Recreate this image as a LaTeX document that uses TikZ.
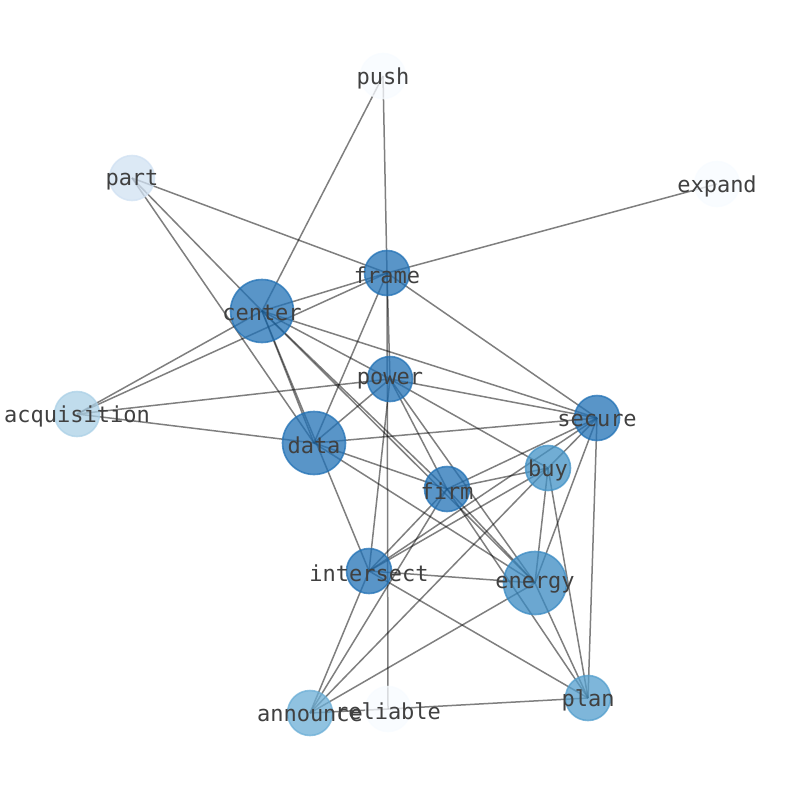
\documentclass[tikz,border=0pt]{standalone}
\usepackage{fontspec}
\newfontfamily\wordfont{DejaVu Sans Mono}
\usepackage{xcolor}
\definecolor{Blues8}{HTML}{2171b5}
\definecolor{Blues7}{HTML}{3a8ac2}
\definecolor{Blues6}{HTML}{4292c6}
\definecolor{Blues5}{HTML}{539ecd}
\definecolor{Blues4}{HTML}{6baed6}
\definecolor{Blues2}{HTML}{abd0e6}
\definecolor{Blues1}{HTML}{d0e1f2}
\definecolor{Blues0}{HTML}{f7fbff}
\colorlet{c0}{Blues8}
\colorlet{c1}{Blues6}
\colorlet{c2}{Blues5}
\colorlet{c3}{Blues4}
\colorlet{c4}{Blues2}
\colorlet{c5}{Blues1}
\colorlet{c6}{Blues0}
\usepackage{tikz}
\usetikzlibrary{backgrounds}
\tikzset{
	font = \wordfont\fontsize{22}{26}\selectfont,
	vertex/.style={
		draw,
		circle,
		line width=1.6pt,
		fill opacity=.75,
		draw opacity=.75,
		inner sep=0pt,
		minimum size=45pt
	},
	big vertex/.style={
		vertex,
		minimum size=63pt
	},
	word/.style={
		text=black!75,
		inner sep=0pt,
		yshift=-2pt
	},
	edge/.style={
		draw=black,
		draw opacity=.5,
		line width=1.5pt
	}
}

\begin{document}
\begin{tikzpicture}[x=1pt, y=-1pt]
\useasboundingbox (0,0) rectangle (794,790);
% ---
% Word graph
% ---
\node[vertex, color=c6, fill=c6, label={[word]center:push}] at (383,76) (push) {};
\node[vertex, color=c5, fill=c5, label={[word]center:part}] at (132,178) (part) {};
\node[vertex, color=c6, fill=c6, label={[word]center:expand}] at (717,184) (expand) {};
\node[vertex, color=c0, fill=c0, label={[word]center:frame}] at (387,273) (frame) {};
\node[big vertex, color=c0, fill=c0, label={[word]center:center}] at (262,311) (center) {};
\node[vertex, color=c0, fill=c0, label={[word]center:power}] at (390,379) (power) {};
\node[vertex, color=c4, fill=c4, label={[word]center:acquisition}] at (77,414) (acq) {};
\node[big vertex, color=c0, fill=c0, label={[word]center:data}] at (314,443) (data) {};
\node[vertex, color=c0, fill=c0, label={[word]center:secure}] at (597,418) (secure) {};
\node[vertex, color=c1, fill=c1, label={[word]center:buy}] at (548,468) (buy) {};
\node[vertex, color=c0, fill=c0, label={[word]center:firm}] at (447,489) (firm) {};
\node[vertex, color=c0, fill=c0, label={[word]center:intersect}] at (369,571) (inter) {};
\node[big vertex, color=Blues7, fill=Blues7, label={[word]center:energy}] at (535,583) (energy) {};
\node[vertex, color=c6, fill=c6, label={[word]center:reliable}] at (388,709) (reliable) {};
\node[vertex, color=c3, fill=c3, label={[word]center:announce}] at (310,713) (announce) {};
\node[vertex, color=c2, fill=c2, label={[word]center:plan}] at (588,698) (plan) {};

\begin{scope}[on background layer]
\draw[edge] (push.center) to (center.center);
\draw[edge] (push.center) to (frame.center);
\draw[edge] (expand.center) to (frame.center);

\draw[edge] (part.center) to (frame.center);
\draw[edge] (part.center) to (center.center);
\draw[edge] (part.center) to (data.center);

\draw[edge] (acq.center) to (center.center);
\draw[edge] (acq.center) to (frame.center);
\draw[edge] (acq.center) to (power.center);
\draw[edge] (acq.center) to (data.center);

\draw[edge] (center.center) to (frame.center);
\draw[edge] (center.center) to (data.center);
\draw[edge] (center.center) to (inter.center);
\draw[edge] (center.center) to (power.center);
\draw[edge] (center.center) to (secure.center);
\draw[edge] (center.center) to (firm.center);
\draw[edge] (center.center) to (energy.center);

\draw[edge] (frame.center) to (power.center);
\draw[edge] (frame.center) to (reliable.center);
\draw[edge] (frame.center) to (data.center);
\draw[edge] (frame.center) to (secure.center);

\draw[edge] (power.center) to (data.center);
\draw[edge] (power.center) to (secure.center);
\draw[edge] (power.center) to (buy.center);
\draw[edge] (power.center) to (firm.center);
\draw[edge] (power.center) to (energy.center);
\draw[edge] (power.center) to (inter.center);

\draw[edge] (data.center) to (secure.center);
\draw[edge] (data.center) to (firm.center);
\draw[edge] (data.center) to (energy.center);

\draw[edge] (secure.center) to (firm.center);
\draw[edge] (secure.center) to (buy.center);
\draw[edge] (secure.center) to (inter.center);
\draw[edge] (secure.center) to (energy.center);
\draw[edge] (secure.center) to (plan.center);

\draw[edge] (buy.center) to (firm.center);
\draw[edge] (buy.center) to (inter.center);
\draw[edge] (buy.center) to (energy.center);
\draw[edge] (buy.center) to (plan.center);
\draw[edge] (buy.center) to (announce.center);

\draw[edge] (firm.center) to (inter.center);
\draw[edge] (firm.center) to (announce.center);
\draw[edge] (firm.center) to (energy.center);
\draw[edge] (firm.center) to (plan.center);

\draw[edge] (inter.center) to (energy.center);
\draw[edge] (inter.center) to (announce.center);
\draw[edge] (inter.center) to (plan.center);

\draw[edge] (energy.center) to (announce.center);
\draw[edge] (energy.center) to (plan.center);

\draw[edge] (reliable.center) to (plan.center);
\draw[edge] (reliable.center) to (announce.center);
\end{scope}
\end{tikzpicture}
\end{document}
